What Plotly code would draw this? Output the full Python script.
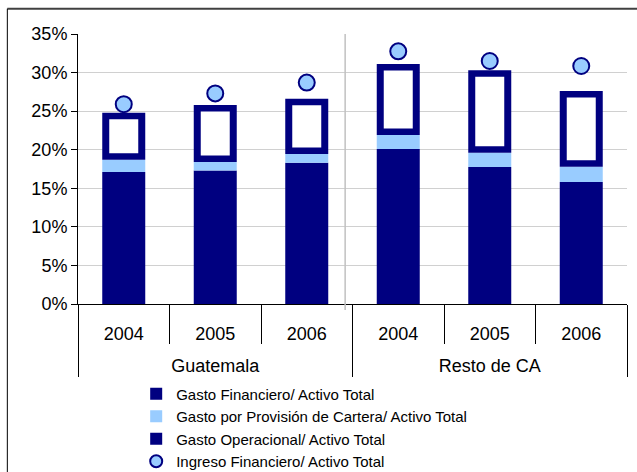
import plotly.graph_objects as go

groups = ["<br>Guatemala"] * 3 + ["<br>Resto de CA"] * 3
years = ["2004", "2005", "2006", "2004", "2005", "2006"]
gasto_operacional = [17.1, 17.3, 18.3, 20.1, 17.75, 15.8]
gasto_provision = [1.6, 1.1, 1.15, 1.8, 1.85, 2.0]
gasto_financiero = [6.1, 7.4, 7.15, 9.2, 10.7, 9.8]
ingreso_financiero = [25.9, 27.3, 28.7, 32.75, 31.5, 30.85]

NAVY = "#000080"
LIGHT = "#99ccff"
FONT = "Liberation Sans, Arial, sans-serif"

x = [groups, years]
base_prov = gasto_operacional
base_fin = [a + b for a, b in zip(gasto_operacional, gasto_provision)]
border = 0.84  # frame thickness of the hollow bar, in axis units
inner_base = [b + border for b in base_fin]
inner_h = [f - 2 * border for f in gasto_financiero]

fig = go.Figure()
fig.add_trace(go.Bar(x=x, y=gasto_operacional, base=0, width=0.47,
                     marker=dict(color=NAVY, line=dict(width=0)),
                     name="Gasto Operacional/ Activo Total", legendrank=3))
fig.add_trace(go.Bar(x=x, y=gasto_provision, base=base_prov, width=0.47,
                     marker=dict(color=LIGHT, line=dict(width=0)),
                     name="Gasto por Provisión de Cartera/ Activo Total", legendrank=2))
fig.add_trace(go.Bar(x=x, y=gasto_financiero, base=base_fin, width=0.47,
                     marker=dict(color=NAVY, line=dict(width=0)),
                     name="Gasto Financiero/ Activo Total", legendrank=1))
fig.add_trace(go.Bar(x=x, y=inner_h, base=inner_base, width=0.317,
                     marker=dict(color="white", line=dict(width=0)),
                     showlegend=False, hoverinfo="skip"))
fig.add_trace(go.Scatter(x=x, y=ingreso_financiero, mode="markers",
                         marker=dict(size=16, color=LIGHT, line=dict(color=NAVY, width=2)),
                         name="Ingreso Financiero/ Activo Total", legendrank=4))

fig.update_layout(
    width=637, height=472,
    margin=dict(l=78, r=10, t=34, b=168, autoexpand=False),
    paper_bgcolor="white", plot_bgcolor="white",
    barmode="overlay",
    font=dict(family=FONT, size=18, color="black"),
    legend=dict(x=0.106, y=-0.272, xanchor="left", yanchor="top",
                font=dict(size=15), tracegroupgap=0, itemsizing="constant",
                bgcolor="rgba(0,0,0,0)"),
    xaxis=dict(type="multicategory", showline=True, linecolor="black", linewidth=1,
               ticks="outside", tickson="boundaries", ticklen=39, tickcolor="black",
               ticklabelstandoff=13,
               showdividers=True, dividercolor="black", dividerwidth=1,
               showgrid=False, tickfont=dict(size=18)),
    yaxis=dict(range=[0, 35], dtick=5, ticksuffix="%", showline=True, linecolor="black",
               linewidth=1, ticks="outside", ticklen=6, tickcolor="black",
               showgrid=True, gridcolor="#d0d0d0", gridwidth=1, zeroline=False,
               tickfont=dict(size=18)),
    shapes=[
        dict(type="line", xref="paper", yref="paper", x0=0.4866, x1=0.4866, y0=-0.022, y1=1,
             line=dict(color="#c0c0c0", width=1.5)),
        dict(type="line", xref="paper", yref="paper", x0=-0.1287, x1=1.05, y0=1.0937, y1=1.0937,
             line=dict(color="#404040", width=2)),
        dict(type="line", xref="paper", yref="paper", x0=-0.1287, x1=-0.1287, y0=-0.65, y1=1.0937,
             line=dict(color="black", width=1)),
    ],
)

fig.write_html("out.html")
